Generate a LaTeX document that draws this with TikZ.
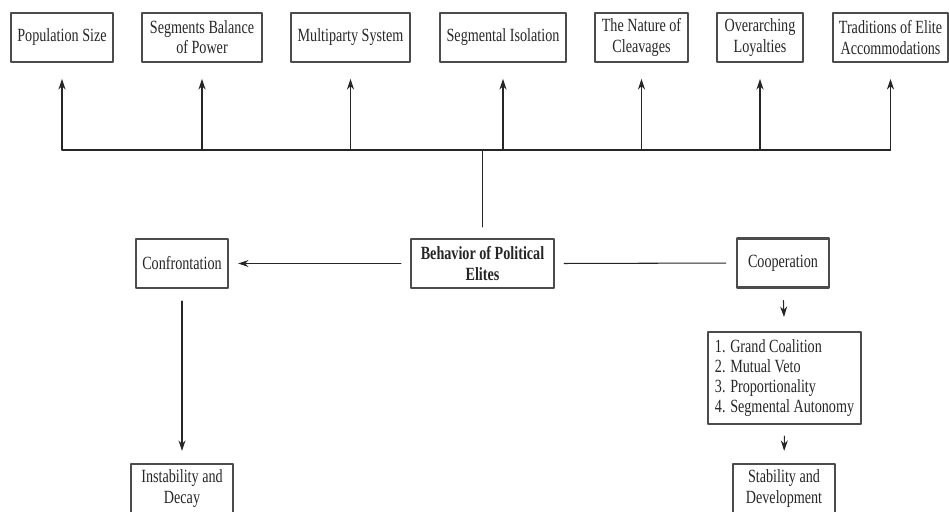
\documentclass[tikz,border=0pt]{standalone}
\usepackage{fontspec}
\setmainfont{Liberation Serif}[FakeStretch=0.76]
\usetikzlibrary{arrows.meta}

\begin{document}
\begin{tikzpicture}[>={Stealth[length=6pt,width=4pt]}, line cap=round, line join=round, x=0.02cm, y=-0.02cm,
  kasten/.style={draw=black!70, line width=1.3pt, minimum height=0.98cm, align=center, inner sep=2pt,
    font=\fontsize{10.6}{11.5}\selectfont, text=black!85},
  linie/.style={line width=0.6pt, draw=black!85}]

  \useasboundingbox (0,0) rectangle (949,511);

  % Faktoren oben
  \node[kasten, minimum width=2.04cm] (pop) at (62,37.5) {Population Size};
  \node[kasten, minimum width=2.40cm] (seg) at (202,37.5) {Segments Balance\\of Power};
  \node[kasten, minimum width=2.38cm] (multi) at (350.5,37.5) {Multiparty System};
  \node[kasten, minimum width=2.52cm] (isol) at (503,37.5) {Segmental Isolation};
  \node[kasten, minimum width=1.86cm] (cleav) at (641.5,37.5) {The Nature of\\Cleavages};
  \node[kasten, minimum width=1.72cm] (overarch) at (760,37.5) {Overarching\\Loyalties};
  \node[kasten, minimum width=2.30cm] (trad) at (890.5,37.5) {Traditions of Elite\\Accommodations};

  % Mitte
  \node[kasten, minimum width=2.86cm, font=\fontsize{10.6}{11.5}\selectfont\bfseries] (behav) at (482.5,263.5) {Behavior of Political\\Elites};
  \node[kasten, minimum width=1.84cm] (confr) at (182,263.5) {Confrontation};
  \node[kasten, minimum width=1.84cm] (coop) at (783,263) {Cooperation};

  % unten
  \node[kasten, minimum width=3.06cm, minimum height=1.84cm, align=left] (list) at (784.5,378)
    {1. Grand Coalition\\2. Mutual Veto\\3. Proportionality\\4. Segmental Autonomy};
  \node[kasten, minimum width=2.04cm] (stab) at (784,488.5) {Stability and\\Development};
  \node[kasten, minimum width=2.04cm] (instab) at (182,488.5) {Instability and\\Decay};

  % Sammelschiene
  \coordinate (hub) at (483,150);
  \draw[linie] (pop |- hub) -- (trad |- hub);
  \draw[linie, shorten <=6.2pt] (behav.north) -- (behav |- hub);
  \foreach \n in {pop,seg,multi,isol,cleav,overarch,trad} {
    \draw[linie, ->, shorten >=9pt] (\n |- hub) -- (\n.south);   % Pfeil nach oben
  }

  % Verzweigung links und rechts
  \draw[linie, ->, shorten <=5.1pt, shorten >=5.1pt] (behav.west) -- (confr.east);
  \draw[linie, shorten <=5.1pt, shorten >=5.7pt] (behav.east) -- (coop.west);

  % Folgen
  \draw[linie, ->, shorten <=6.8pt, shorten >=6.8pt] (confr.south) -- (instab.north);
  \draw[linie, ->, shorten <=6.8pt, shorten >=7.9pt] (coop.south) -- (list.north);
  \draw[linie, ->, shorten <=6.2pt, shorten >=6.8pt] (list.south) -- (stab.north);

\end{tikzpicture}
\end{document}
